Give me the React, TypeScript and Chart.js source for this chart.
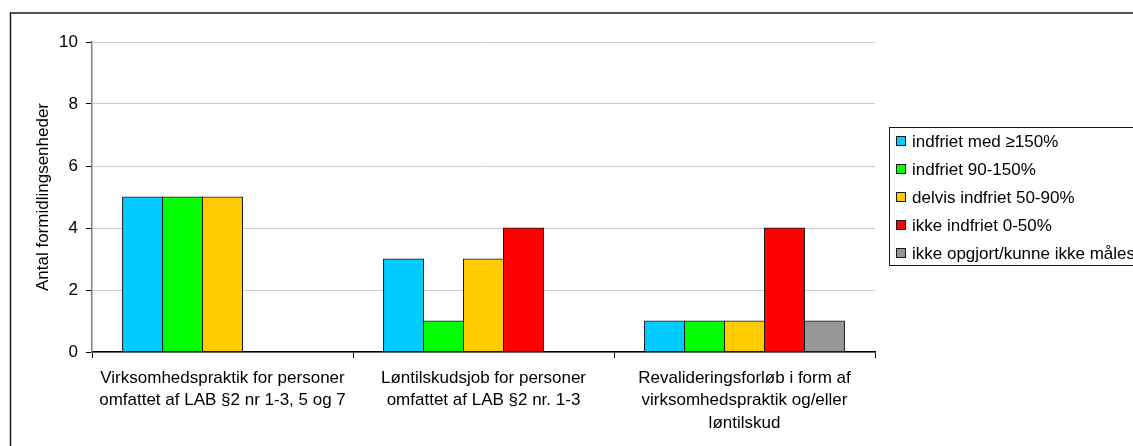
import React, { useEffect, useRef } from "react";
import { Chart, registerables } from "chart.js";

Chart.register(...registerables);

const categories: string[][] = [
  ["Virksomhedspraktik for personer", "omfattet af LAB §2 nr 1-3, 5 og 7"],
  ["Løntilskudsjob for personer", "omfattet af LAB §2 nr. 1-3"],
  ["Revalideringsforløb i form af", "virksomhedspraktik og/eller", "løntilskud"],
];
const seriesLabels = [
  "indfriet med ≥150%",
  "indfriet 90-150%",
  "delvis indfriet 50-90%",
  "ikke indfriet 0-50%",
  "ikke opgjort/kunne ikke måles",
];
const indfrietOver150 = [5, 3, 1];
const indfriet90to150 = [5, 1, 1];
const delvisIndfriet = [5, 3, 1];
const ikkeIndfriet = [0, 4, 4];
const ikkeOpgjort = [0, 0, 1];
const yTicks = [0, 2, 4, 6, 8, 10];
const yTitle = "Antal formidlingsenheder";
const seriesColors = ["#00CCFF", "#00FF00", "#FFCC00", "#FF0000", "#969696"];

const FONT = "'Liberation Sans', Arial, sans-serif";
const FS = 17;

const framePlugin = {
  id: "frame",
  beforeDraw(chart: any) {
    const ctx = chart.ctx;
    ctx.save();
    ctx.fillStyle = "#ffffff";
    ctx.fillRect(0, 0, chart.width, chart.height);
    ctx.strokeStyle = "#1a1a1a";
    ctx.lineWidth = 1.5;
    ctx.strokeRect(10.5, 13, chart.width + 50, chart.height + 50);
    ctx.restore();
  },
};

const boxLegendPlugin = {
  id: "boxLegend",
  afterDraw(chart: any) {
    const ctx = chart.ctx;
    const area = chart.chartArea;
    const ds = chart.data.datasets;
    const rowH = 28;
    const left = area.right + 14;
    const top = (area.top + area.bottom) / 2 - (rowH * ds.length) / 2;
    ctx.save();
    ctx.strokeStyle = "#1a1a1a";
    ctx.lineWidth = 1;
    ctx.strokeRect(left + 0.5, top + 0.5, 400, rowH * ds.length - 2);
    ctx.font = `${FS}px ${FONT}`;
    ctx.textBaseline = "middle";
    ctx.textAlign = "left";
    ds.forEach((d: any, i: number) => {
      const cy = top + 14 + i * rowH;
      ctx.fillStyle = d.backgroundColor;
      ctx.fillRect(left + 7, cy - 5, 10, 10);
      ctx.strokeStyle = "#1a1a1a";
      ctx.strokeRect(left + 7.5, cy - 4.5, 9, 9);
      ctx.fillStyle = "#000000";
      ctx.fillText(d.label, left + 23, cy + 1);
    });
    ctx.restore();
  },
};

export default function App() {
  const ref = useRef<HTMLCanvasElement | null>(null);

  useEffect(() => {
    if (!ref.current) return;
    const values = [indfrietOver150, indfriet90to150, delvisIndfriet, ikkeIndfriet, ikkeOpgjort];
    const chart = new Chart(ref.current, {
      type: "bar",
      data: {
        labels: categories,
        datasets: values.map((v, i) => ({
          label: seriesLabels[i],
          data: v,
          backgroundColor: seriesColors[i],
          borderColor: "#1a1a1a",
          borderWidth: 1,
          borderSkipped: false,
          categoryPercentage: 0.766,
          barPercentage: 1,
          inflateAmount: 0.5,
        })),
      },
      options: {
        responsive: false,
        animation: false,
        events: [],
        layout: { padding: { left: 12, top: 42, right: 305, bottom: 38 } },
        plugins: {
          legend: { display: false },
          tooltip: { enabled: false },
        },
        scales: {
          x: {
            offset: true,
            afterFit: (s: any) => {
              s.height = 80;
            },
            grid: {
              display: true,
              offset: true,
              drawOnChartArea: false,
              drawTicks: true,
              tickLength: 6,
              tickColor: "#000000",
            },
            border: { display: true, color: "#000000", width: 1.5 },
            ticks: {
              color: "#000000",
              font: { family: FONT, size: FS, lineHeight: 1.32 },
              padding: 9,
              maxRotation: 0,
              autoSkip: false,
            },
          },
          y: {
            min: 0,
            max: 10,
            afterFit: (s: any) => {
              s.width = 80;
            },
            afterBuildTicks: (s: any) => {
              s.ticks = yTicks.map((v) => ({ value: v }));
            },
            grid: {
              color: "#cccccc",
              tickColor: "#000000",
              tickLength: 6,
              lineWidth: 1,
            },
            border: { display: true, color: "#808080", width: 1.5 },
            title: {
              display: true,
              text: yTitle,
              color: "#000000",
              font: { family: FONT, size: FS },
              padding: { top: 21, bottom: 0 },
            },
            ticks: {
              color: "#000000",
              font: { family: FONT, size: FS },
              padding: 8,
            },
          },
        },
      },
      plugins: [framePlugin, boxLegendPlugin],
    });
    return () => chart.destroy();
  }, []);

  return (
    <div style={{ position: "fixed", left: 0, top: 0, width: 1133, height: 446, overflow: "hidden", background: "#fff" }}>
      <canvas ref={ref} width={1180} height={470} style={{ position: "absolute", left: 0, top: 0 }} />
    </div>
  );
}
